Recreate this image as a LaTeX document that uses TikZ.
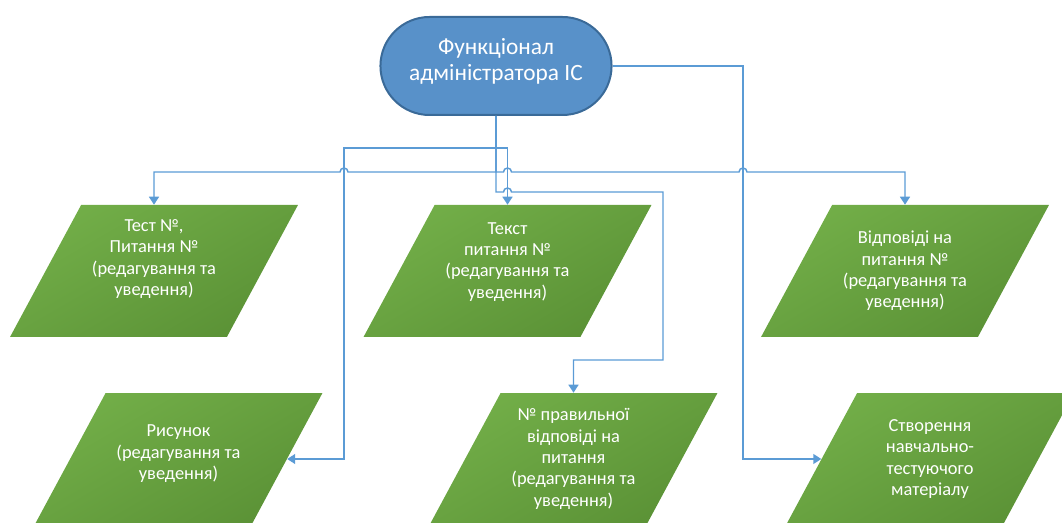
\documentclass[tikz,border=0pt]{standalone}
\usepackage{fontspec}
\setmainfont{Carlito}
\usetikzlibrary{shapes.geometric,shapes.misc,arrows.meta}
\definecolor{linkblue}{HTML}{5B9BD5}
\definecolor{boxgreenA}{HTML}{72AE48}
\definecolor{boxgreenB}{HTML}{5B9236}
\definecolor{termblue}{HTML}{5891C9}
\definecolor{termedge}{HTML}{3A6A98}
\begin{document}
\begin{tikzpicture}
[x=0.75pt,y=-0.75pt,%
  link/.style={draw=linkblue,line width=1.1pt},
  arrow/.style={link,-{Triangle[width=7.5pt,length=6pt]}},
  term/.style={rounded rectangle,minimum width=180pt,minimum height=73.5pt,
    fill=termblue,draw=termedge,line width=1.5pt},
  data/.style={trapezium,trapezium left angle=64,trapezium right angle=116,
    trapezium stretches=true,minimum width=216pt,minimum height=99pt,
    inner sep=2pt,top color=boxgreenA,bottom color=boxgreenB,shading angle=30},
  txt/.style={text=white,align=center,font=\fontsize{13.8pt}{16pt}\selectfont},
  bigtxt/.style={text=white,align=center,font=\fontsize{17.5pt}{19.5pt}\selectfont}]
\useasboundingbox (0,0) rectangle (1062,523);
\node[term,label={[bigtxt,yshift=3.5pt]center:{Функціонал\\адміністратора ІС}}] (admin) at (496,66) {};
\node[data,label={[txt,yshift=9pt]center:{Тест №,\\Питання №\\(редагування та\\уведення)}}] (test) at (154,271) {};
\node[data,label={[txt,yshift=7pt]center:{Текст\\питання №\\(редагування та\\уведення)}}] (tekst) at (507.5,271) {};
\node[data,label={[txt]center:{Відповіді на\\питання №\\(редагування та\\уведення)}}] (vidp) at (905,271) {};
\node[data,label={[txt,yshift=4pt]center:{Рисунок\\(редагування та\\уведення)}}] (ris) at (178.5,459) {};
\node[data,label={[txt]center:{№ правильної\\відповіді на\\питання\\(редагування та\\уведення)}}] (prav) at (573.5,459) {};
\node[data,label={[txt]center:{Створення\\навчально-\\тестуючого\\матеріалу}}] (stv) at (930,459) {};
\draw[arrow] (admin.south) |- (tekst.north |- 0,148) -- (tekst.north);
\draw[arrow] (admin.south) |- (344,148) |- (ris.east);
\draw[arrow] (admin.south) |- (348,172) arc (0:-180:4) -| (test.north);
\draw[arrow] (admin.south) |- (503.5,172) arc (180:360:4) -- (739,172) arc (180:360:4) -| (vidp.north);
\draw[arrow] (admin.south) |- (503.5,192) arc (180:360:4) -| (663,360) -| (prav.north);
\draw[arrow] (admin.east) -| (743,459) -- (stv.west);
\end{tikzpicture}
\end{document}
